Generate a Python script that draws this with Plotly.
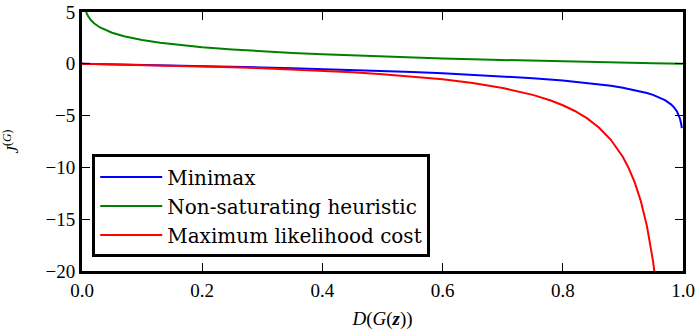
import plotly.graph_objects as go

# Minimax cost
x_minimax = [0.0, 0.05, 0.1, 0.15, 0.2, 0.25, 0.3, 0.35, 0.4, 0.45, 0.5, 0.55, 0.6, 0.65,
             0.7, 0.75, 0.8, 0.85, 0.88, 0.9, 0.92, 0.94, 0.95, 0.96, 0.97, 0.98, 0.985,
             0.99, 0.993, 0.995, 0.997, 0.998]
y_minimax = [0.0, -0.051, -0.105, -0.163, -0.223, -0.288, -0.357, -0.431, -0.511, -0.598,
             -0.693, -0.799, -0.916, -1.050, -1.204, -1.386, -1.609, -1.897, -2.120, -2.303,
             -2.526, -2.813, -2.996, -3.219, -3.507, -3.912, -4.200, -4.605, -4.962, -5.298,
             -5.809, -6.215]

# Non-saturating heuristic
x_nonsat = [0.0067, 0.01, 0.015, 0.02, 0.03, 0.04, 0.05, 0.07, 0.1, 0.13, 0.16, 0.2, 0.25,
            0.3, 0.35, 0.4, 0.45, 0.5, 0.55, 0.6, 0.65, 0.7, 0.75, 0.8, 0.85, 0.9, 0.95, 1.0]
y_nonsat = [5.0, 4.605, 4.200, 3.912, 3.507, 3.219, 2.996, 2.659, 2.303, 2.040, 1.833, 1.609,
            1.386, 1.204, 1.050, 0.916, 0.799, 0.693, 0.598, 0.511, 0.431, 0.357, 0.288,
            0.223, 0.163, 0.105, 0.051, 0.0]

# Maximum likelihood cost
x_ml = [0.0, 0.05, 0.1, 0.15, 0.2, 0.25, 0.3, 0.35, 0.4, 0.45, 0.5, 0.55, 0.6, 0.65, 0.7,
        0.75, 0.78, 0.8, 0.82, 0.84, 0.86, 0.88, 0.9, 0.91, 0.92, 0.93, 0.94, 0.95, 0.955]
y_ml = [0.0, -0.053, -0.111, -0.176, -0.25, -0.333, -0.429, -0.538, -0.667, -0.818, -1.0,
        -1.222, -1.5, -1.857, -2.333, -3.0, -3.545, -4.0, -4.556, -5.25, -6.143, -7.333,
        -9.0, -10.111, -11.5, -13.286, -15.667, -19.0, -21.22]

x_ticks = [0.0, 0.2, 0.4, 0.6, 0.8, 1.0]
y_ticks = [5, 0, -5, -10, -15, -20]

FONT = "'Liberation Serif', 'DejaVu Serif', serif"
LEGEND_FONT = "'DejaVu Serif', 'Liberation Serif', serif"

fig = go.Figure()
fig.add_trace(go.Scatter(x=x_minimax, y=y_minimax, mode="lines", name="Minimax",
                         line=dict(color="#0000ff", width=2)))
fig.add_trace(go.Scatter(x=x_nonsat, y=y_nonsat, mode="lines", name="Non-saturating heuristic",
                         line=dict(color="#008000", width=2)))
fig.add_trace(go.Scatter(x=x_ml, y=y_ml, mode="lines", name="Maximum likelihood cost",
                         line=dict(color="#ff0000", width=2)))

axis_common = dict(showline=True, linecolor="black", linewidth=3, mirror="ticks",
                   ticks="inside", ticklen=8, tickwidth=1, tickcolor="black",
                   showgrid=False, zeroline=False, automargin=False,
                   tickfont=dict(family=FONT, size=19, color="black"))

fig.update_xaxes(range=[0, 1], tickvals=x_ticks, ticktext=[f"{v:.1f}" for v in x_ticks],
                 title=dict(text="<i>D</i>(<i>G</i>(<b><i>z</i></b>))",
                            font=dict(family=FONT, size=19, color="black"), standoff=12),
                 **axis_common)
fig.update_yaxes(range=[-20, 5], tickvals=y_ticks,
                 title=dict(text="<i>J</i><sup>(<i>G</i>)</sup>",
                            font=dict(family=FONT, size=17, color="black"), standoff=24),
                 **axis_common)

fig.update_layout(
    width=700, height=333,
    margin=dict(l=82, r=17, t=12, b=62),
    paper_bgcolor="white", plot_bgcolor="white",
    showlegend=True,
    legend=dict(x=0.017, y=0.45, xanchor="left", yanchor="top",
                bordercolor="black", borderwidth=3, bgcolor="white",
                font=dict(family=LEGEND_FONT, size=20, color="black"),
                tracegroupgap=0, itemwidth=62),
    font=dict(family=FONT, color="black"),
)

fig.write_html("out.html")
